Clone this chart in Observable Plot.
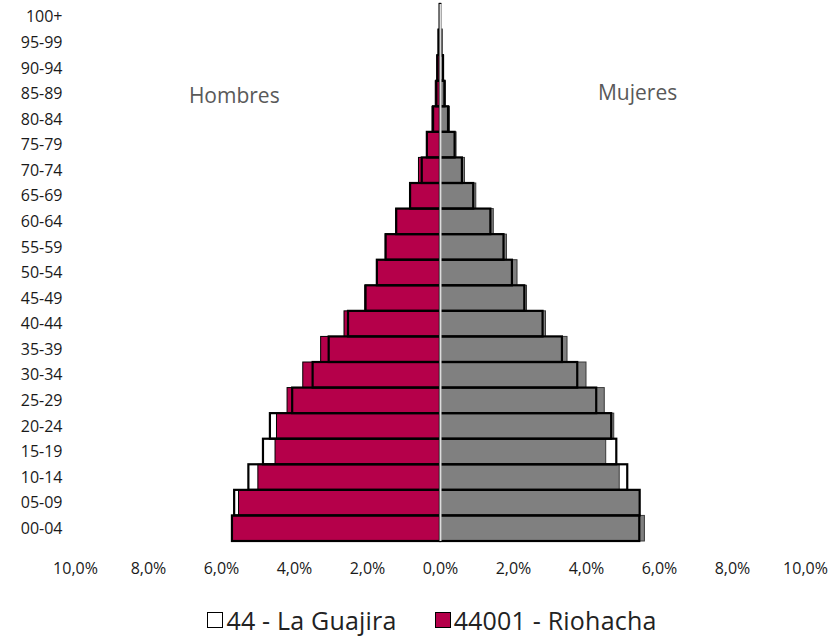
<!DOCTYPE html>
<html>
<head>
<meta charset="utf-8">
<script src="https://cdn.jsdelivr.net/npm/d3@7"></script>
<script src="https://cdn.jsdelivr.net/npm/@observablehq/plot@0.6"></script>
<style>
  body { margin: 0; background: #fff; font-family: "Open Sans", sans-serif; }
  #legend { display: flex; justify-content: center; align-items: center; gap: 38px; font-size: 25px; letter-spacing: 0.2px; color: #222; margin-top: 13px; padding-left: 34px; line-height: 34px; height: 34px; }
  .item { display: flex; align-items: center; gap: 3px; }
  .sw { width: 16px; height: 16px; border: 1.5px solid #000; box-sizing: border-box; }
</style>
</head>
<body>
<div id="chart"></div>
<div id="legend"></div>
<script>
const ages = ["00-04","05-09","10-14","15-19","20-24","25-29","30-34","35-39","40-44","45-49","50-54","55-59","60-64","65-69","70-74","75-79","80-84","85-89","90-94","95-99","100+"];
const menGuajira     = [5.70,5.64,5.25,4.85,4.66,4.05,3.49,3.05,2.52,2.04,1.73,1.49,1.20,0.82,0.50,0.36,0.19,0.10,0.07,0.04,0.01];
const menRiohacha    = [5.69,5.52,4.99,4.52,4.48,4.19,3.76,3.27,2.63,2.06,1.74,1.50,1.21,0.83,0.59,0.37,0.22,0.13,0.09,0.05,0.01];
const womenGuajira   = [5.46,5.47,5.13,4.83,4.69,4.28,3.76,3.34,2.81,2.31,1.97,1.74,1.38,0.91,0.60,0.40,0.22,0.12,0.08,0.04,0.01];
const womenRiohacha  = [5.60,5.47,4.91,4.54,4.76,4.50,4.00,3.48,2.89,2.37,2.11,1.82,1.46,0.98,0.67,0.44,0.26,0.15,0.10,0.05,0.01];
const xTicks = [-10,-8,-6,-4,-2,0,2,4,6,8,10];
const seriesNames = ["44 - La Guajira", "44001 - Riohacha"];
const sideLabels = ["Hombres", "Mujeres"];
const crimson = "#B5004A";
const gray = "#808080";

const rio = ages.flatMap((a, i) => [
  {age: a, value: -menRiohacha[i], sex: "H"},
  {age: a, value: womenRiohacha[i], sex: "M"}
]);
const gua = ages.flatMap((a, i) => [
  {age: a, value: -menGuajira[i]},
  {age: a, value: womenGuajira[i]}
]);

const fmt = d => Math.abs(d).toFixed(1).replace(".", ",") + "%";

const chart = Plot.plot({
  width: 830,
  height: 590,
  marginLeft: 75,
  marginRight: 25,
  marginTop: 4,
  marginBottom: 49,
  style: {fontFamily: "Open Sans, sans-serif", fontSize: "16px", color: "#1a1a1a", background: "#fff"},
  x: {domain: [-10, 10], ticks: xTicks, tickFormat: fmt, label: null},
  y: {domain: ages.slice().reverse(), padding: 0, round: false, label: null},
  marks: [
    Plot.barX(rio.filter(d => d.sex === "H"), {x: "value", y: "age", fill: crimson, stroke: "#000", strokeWidth: 1}),
    Plot.barX(rio.filter(d => d.sex === "M"), {x: "value", y: "age", fill: gray, stroke: "#3a3a3a", strokeWidth: 1}),
    Plot.barX(gua, {x: "value", y: "age", fill: "none", stroke: "#000", strokeWidth: 2.2}),
    Plot.ruleX([0], {stroke: "#dcdcdc", strokeWidth: 2}),
    Plot.axisX({ticks: xTicks, tickFormat: fmt, tickSize: 0, tickPadding: 21, label: null}),
    Plot.axisY({tickSize: 0, tickPadding: 13, label: null}),
    Plot.text([sideLabels[0]], {x: () => -5.65, y: () => "85-89", dy: 2, text: d => d, fontSize: 21, fill: "#595959"}),
    Plot.text([sideLabels[1]], {x: () => 5.4, y: () => "85-89", dy: -1, text: d => d, fontSize: 21, fill: "#595959"})
  ]
});
document.getElementById("chart").appendChild(chart);

const legend = document.getElementById("legend");
[["#fff"], [crimson]].forEach(([c], i) => {
  const item = document.createElement("div");
  item.className = "item";
  const sw = document.createElement("div");
  sw.className = "sw";
  sw.style.background = c;
  const t = document.createElement("span");
  t.textContent = seriesNames[i];
  item.appendChild(sw);
  item.appendChild(t);
  legend.appendChild(item);
});
</script>
</body>
</html>
